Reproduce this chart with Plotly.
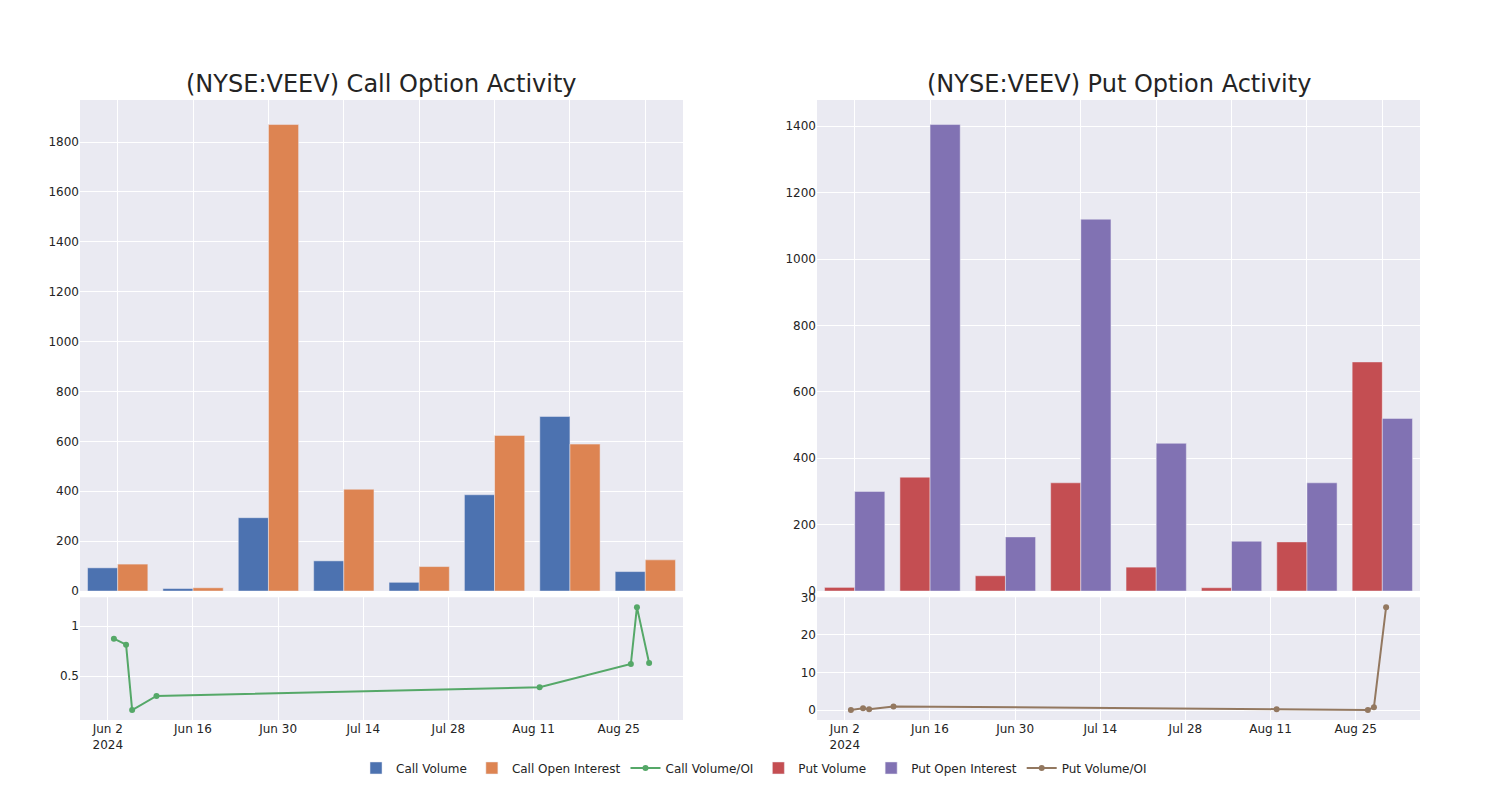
import plotly.graph_objects as go
from plotly.subplots import make_subplots

# Data
dates = ["2024-06-03", "2024-06-05", "2024-06-06", "2024-06-10",
         "2024-08-12", "2024-08-27", "2024-08-28", "2024-08-30"]

call_volume = [93, 10, 294, 121, 35, 386, 700, 78]
call_oi = [108, 13, 1870, 408, 98, 624, 589, 125]
call_vol_oi = [0.875, 0.815, 0.162, 0.304, 0.39, 0.622, 1.19, 0.632]

put_volume = [11, 343, 46, 326, 72, 10, 148, 690]
put_oi = [300, 1405, 163, 1120, 445, 150, 326, 520]
put_vol_oi = [0.05, 0.5, 0.27, 1.0, 0.27, 0.02, 0.8, 27.4]

titles = ["(NYSE:VEEV) Call Option Activity", "(NYSE:VEEV) Put Option Activity"]

fig = make_subplots(
    rows=2, cols=2,
    row_heights=[0.8, 0.2],
    vertical_spacing=0.01,
    horizontal_spacing=0.1,
    subplot_titles=(titles[0], titles[1], "", ""),
)

fig.add_trace(go.Bar(x=dates, y=call_volume, name="Call Volume"), row=1, col=1)
fig.add_trace(go.Bar(x=dates, y=call_oi, name="Call Open Interest"), row=1, col=1)
fig.add_trace(go.Scatter(x=dates, y=call_vol_oi, name="Call Volume/OI",
                         mode="lines+markers"), row=2, col=1)
fig.add_trace(go.Bar(x=dates, y=put_volume, name="Put Volume"), row=1, col=2)
fig.add_trace(go.Bar(x=dates, y=put_oi, name="Put Open Interest"), row=1, col=2)
fig.add_trace(go.Scatter(x=dates, y=put_vol_oi, name="Put Volume/OI",
                         mode="lines+markers"), row=2, col=2)

fig.update_xaxes(type="category", showticklabels=False, row=1, col=1)
fig.update_xaxes(type="category", showticklabels=False, row=1, col=2)
fig.update_xaxes(type="date", row=2, col=1)
fig.update_xaxes(type="date", row=2, col=2)

for ann in fig.layout.annotations:
    ann.font = dict(size=24, family="DejaVu Sans", color="rgb(36,36,36)")

fig.update_layout(
    template="seaborn",
    width=1492, height=792,
    margin=dict(l=72, r=80, t=92, b=80),
    font=dict(family="DejaVu Sans"),
    barmode="group",
    legend=dict(orientation="h", x=0.503, xanchor="center", y=-0.054, yanchor="top"),
)

fig.write_html("out.html")
